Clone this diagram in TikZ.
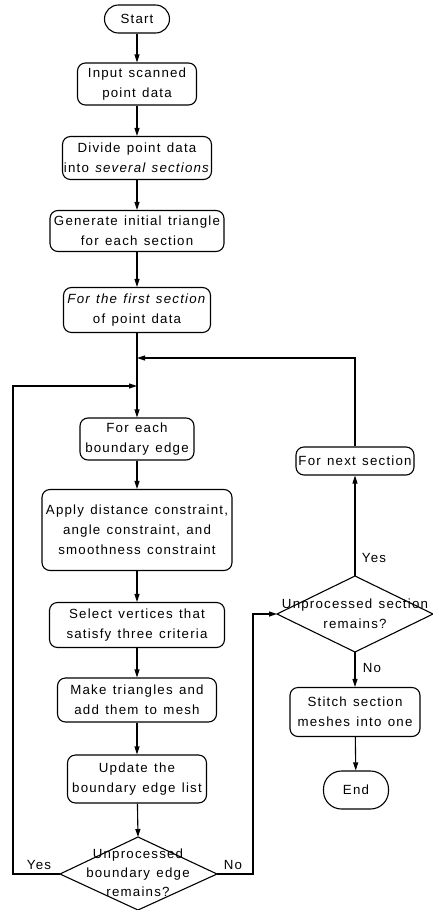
\documentclass[tikz,border=0pt]{standalone}
\usepackage{fontspec}
\setmainfont{Liberation Sans}[LetterSpace=9,WordSpace=1.3]
\usetikzlibrary{arrows.meta}
\begin{document}
\begin{tikzpicture}[x=1pt,y=-1pt,line width=1.1pt,
  box/.style={draw, rounded corners=8pt, align=center, inner sep=0pt, font=\fontsize{13.3}{20}\selectfont},
  txt/.style={align=center, inner sep=0pt, font=\fontsize{13.3}{20}\selectfont},
  arr/.style={-{Triangle[length=8pt,width=5pt]}}]
\useasboundingbox (0,0) rectangle (433,910);
% main column
\node[box, rounded corners=14pt, minimum width=65pt, minimum height=28pt] (start) at (137,19) {Start};
\node[box, minimum width=119pt, minimum height=42pt] (input) at (137,84) {Input scanned\\point data};
\node[box, minimum width=149pt, minimum height=43pt] (divide) at (137,158) {Divide point data\\into \textit{several sections}};
\node[box, minimum width=174pt, minimum height=41pt] (gen) at (137,231) {Generate initial triangle\\for each section};
\node[box, minimum width=147pt, minimum height=45pt] (first) at (137,310) {\textit{For the first section}\\of point data};
\coordinate (j1) at (137,358);
\coordinate (j2) at (137,386);
\node[box, minimum width=114pt, minimum height=42pt] (each) at (137,439) {For each\\boundary edge};
\node[box, minimum width=190pt, minimum height=81pt] (apply) at (137,530) {Apply distance constraint,\\angle constraint, and\\smoothness constraint};
\node[box, minimum width=175pt, minimum height=45pt] (select) at (137,625) {Select vertices that\\satisfy three criteria};
\node[box, minimum width=159pt, minimum height=44pt] (make) at (137,700) {Make triangles and\\add them to mesh};
\node[box, minimum width=139pt, minimum height=48pt] (update) at (137,779) {Update the\\boundary edge list};
% bottom diamond
\node[txt, font=\fontsize{13.3}{19}\selectfont] (d2) at (138,873) {Unprocessed\\boundary edge\\remains?};
\coordinate (d2t) at (138,837);
\coordinate (d2b) at (138,910);
\coordinate (d2l) at (60,874);
\coordinate (d2r) at (217,874);
\draw (d2t) -- (d2r) -- (d2b) -- (d2l) -- cycle;
% right column
\node[box, minimum width=118pt, minimum height=28pt] (next) at (355,461) {For next section};
\node[txt] (d1) at (355,614) {Unprocessed section\\remains?};
\coordinate (d1t) at (355,576);
\coordinate (d1b) at (355,652);
\coordinate (d1l) at (277,614);
\coordinate (d1r) at (433,614);
\draw (d1t) -- (d1r) -- (d1b) -- (d1l) -- cycle;
\node[box, minimum width=130pt, minimum height=49pt] (stitch) at (355,712) {Stitch section\\meshes into one};
\node[box, rounded corners=18pt, minimum width=65pt, minimum height=38pt] (end) at (356,790) {End};
% loop corners
\coordinate (c1) at (13,874);
\coordinate (c2) at (13,386);
\coordinate (c3) at (253,874);
\coordinate (c4) at (253,614);
\coordinate (c5) at (355,358);
% connectors
\draw[arr] (start) -- (input);
\draw[arr] (input) -- (divide);
\draw[arr] (divide) -- (gen);
\draw[arr] (gen) -- (first);
\draw[arr] (first) -- (each);
\draw[arr] (each) -- (apply);
\draw[arr] (apply) -- (select);
\draw[arr] (select) -- (make);
\draw[arr] (make) -- (update);
\draw[arr] (update) -- (d2t);
\draw[arr] (d2l) -- (c1) -- (c2) -- (j2);
\draw[arr] (d2r) -- (c3) -- (c4) -- (d1l);
\draw[arr] (d1t) -- (next);
\draw[arr] (next) -- (c5) -- (j1);
\draw[arr] (d1b) -- (stitch);
\draw[arr] (stitch) -- (end);
% labels
\node[txt] (y1) at (374,558) {Yes};
\node[txt] (n1) at (372,668) {No};
\node[txt] (y2) at (39,865) {Yes};
\node[txt] (n2) at (233,865) {No};
\end{tikzpicture}
\end{document}
